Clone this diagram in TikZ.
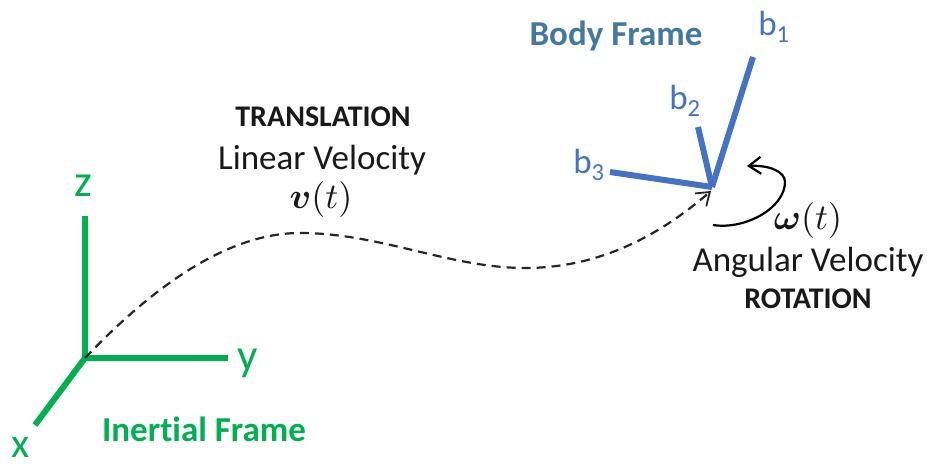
\documentclass[tikz,border=0pt]{standalone}
\usepackage{fontspec}
\usepackage{amsmath}
\usepackage{amssymb}
\usepackage{graphicx}
\setmainfont[Ligatures=NoCommon]{Carlito}
\usetikzlibrary{arrows.meta}
\definecolor{inertial}{HTML}{00B050}
\definecolor{bodyaxis}{HTML}{4472C4}
\definecolor{bodytitle}{HTML}{44789F}
\tikzset{
  txt/.style={inner sep=0pt,outer sep=0pt,anchor=center,text=#1},
  txt/.default=black!90,
  greenaxis/.style={draw=inertial,line width=6pt},
  blueaxis/.style={draw=bodyaxis,line width=6pt},
  axlab/.style={font=\fontsize{45}{45}\selectfont},
  blab/.style={font=\fontsize{35}{35}\selectfont},
  lab/.style={font=\fontsize{35}{35}\selectfont},
  caps/.style={font=\fontsize{30}{30}\selectfont\bfseries},
  title/.style={font=\fontsize{35}{35}\selectfont\bfseries},
  trajectory/.style={draw=black!85,line width=2.2pt,dash pattern=on 9pt off 6pt}
}
\newcommand{\bvec}[1]{\scalebox{3.6}{$\boldsymbol{#1}(t)$}}
\begin{document}
\begin{tikzpicture}[x=1pt,y=-1pt]
\useasboundingbox (0,0) rectangle (927,466);
\fill[white] (0,0) rectangle (927,466);
% inertial frame
\coordinate (O) at (85,358);
\coordinate (zend) at (85,216);
\coordinate (yend) at (228,358);
\coordinate (xend) at (35,425);
\draw[greenaxis] (O) -- (zend);
\draw[greenaxis] (O) -- (yend);
\draw[greenaxis] (O) -- (xend);
\node[txt=inertial,axlab] (zlab) at (83,186) {z};
\node[txt=inertial,axlab] (ylab) at (248,363) {y};
\node[txt=inertial,font=\fontsize{42}{42}\selectfont] (xlab) at (21,447) {x};
\node[txt=inertial,title] (inertial) at (204,429) {Inertial Frame};
% body frame
\coordinate (B) at (712,187);
\coordinate (b1end) at (753,57);
\coordinate (b2end) at (698,127);
\coordinate (b3end) at (610,172);
\draw[blueaxis] (B) -- (b1end);
\draw[blueaxis] (B) -- (b2end);
\draw[blueaxis] (B) -- (b3end);
\node[txt=bodyaxis,blab] (b1lab) at (774,27) {b\textsubscript{1}};
\node[txt=bodyaxis,blab] (b2lab) at (685,101) {b\textsubscript{2}};
\node[txt=bodyaxis,blab] (b3lab) at (589,165) {b\textsubscript{3}};
\node[txt=bodytitle,title] (body) at (616,36) {Body Frame};
% trajectory
\coordinate (T) at (711,191);
\draw[trajectory,-{Straight Barb[length=12pt,width=17pt,line width=1.8pt]}] (O)
  .. controls (150,290) and (225,233) .. (300,233)
  .. controls (380,233) and (450,268) .. (525,268)
  .. controls (600,268) and (660,235) .. (T);
% rotation arrow
\coordinate (Rs) at (713,225);
\coordinate (Re) at (747,166);
\draw[black,line width=2.2pt,-{Straight Barb[length=12pt,width=17pt,line width=2.2pt]}] (Rs)
  .. controls (745,230) and (785,208) .. (785,182)
  .. controls (785,171) and (768,165) .. (Re);
% labels
\node[txt,caps] (transl) at (323,117) {TRANSLATION};
\node[txt,lab] (linear) at (322,160) {Linear Velocity};
\node[txt] (vt) at (321,199) {\bvec{v}};
\node[txt] (wt) at (808,220) {\bvec{\omega}};
\node[txt,lab] (angular) at (808,262) {Angular Velocity};
\node[txt,caps] (rot) at (808,299) {ROTATION};
\end{tikzpicture}
\end{document}
